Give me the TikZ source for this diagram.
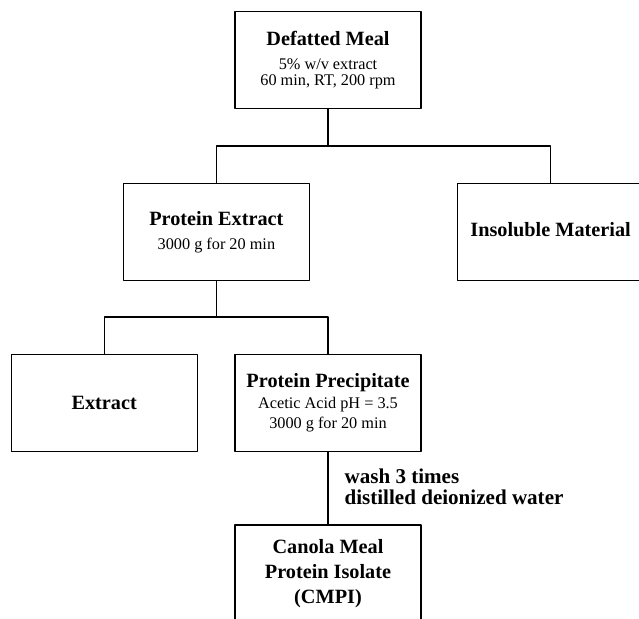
\documentclass[tikz,border=0pt]{standalone}
\usepackage{fontspec}
\setmainfont{Liberation Serif}
\def\titfont{\fontsize{15.2}{15.2}\selectfont\bfseries}
\def\txtfont{\fontsize{12.2}{12}\selectfont}
\begin{document}
\begin{tikzpicture}[x=0.75pt, y=-0.75pt, line width=0.9pt, line join=round,
	hop/.style={draw, minimum width=139.5pt, minimum height=72.75pt, align=center, font=\txtfont}]
	\useasboundingbox (0,0) rectangle (639,618);
	\clip (0,0) rectangle (639,618);
	%Các hộp
	\node[hop] (meal) at (328,60) {{\titfont Defatted Meal}\\[6pt]5\% w/v extract\\60 min, RT, 200 rpm};
	\node[hop] (protext) at (216.4,232) {{\titfont Protein Extract}\\[6pt]3000 g for 20 min};
	\node[hop] (insol) at (550.6,232) {\raisebox{4.5pt}{\titfont Insoluble Material}};
	\node[hop] (extract) at (104.2,402.6) {\titfont Extract};
	\node[hop] (precip) at (328,402.6) {{\titfont Protein Precipitate}\\[3.75pt]Acetic Acid pH = 3.5\\[3pt]3000 g for 20 min};
	\node[hop, font=\fontsize{15.2}{18.75}\selectfont\bfseries] (cmpi) at (328,573.5) {Canola Meal\\Protein Isolate\\(CMPI)};
	%Điểm rẽ nhánh
	\coordinate (j1) at (328,146);
	\coordinate (j2) at (216.4,317);
	%Đường nối
	\draw (meal) -- (j1);
	\draw (protext.north) |- (j1) -| (insol.north);
	\draw (protext) -- (j2);
	\draw (extract.north) |- (j2) -| (precip.north);
	\draw (precip) -- (cmpi);
	\node[anchor=west, align=left, inner sep=0pt, font=\fontsize{15.8}{15.5}\selectfont\bfseries] (wash) at (344,487) {wash 3 times\\distilled deionized water};
\end{tikzpicture}
\end{document}
